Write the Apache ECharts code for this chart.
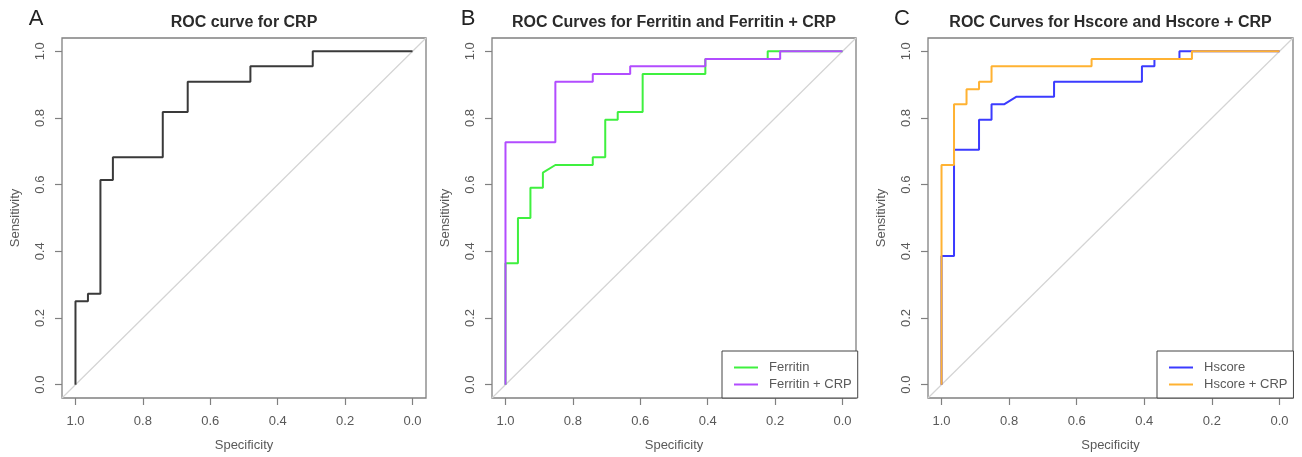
<!DOCTYPE html>
<html>
<head>
<meta charset="utf-8">
<script src="https://cdn.jsdelivr.net/npm/echarts@6/dist/echarts.min.js"></script>
<style>
html,body{margin:0;padding:0;background:#fff;}
#chart{width:1302px;height:457px;}
</style>
</head>
<body>
<div id="chart"></div>
<script>
// ---- data ----
var tickValues = [0, 0.2, 0.4, 0.6, 0.8, 1.0];
var panelTitles = ['ROC curve for CRP', 'ROC Curves for Ferritin and Ferritin + CRP', 'ROC Curves for Hscore and Hscore + CRP'];
var panelLetters = ['A', 'B', 'C'];
var diagSpec = [1.04, -0.04];
var diagSens = [-0.04, 1.04];

// A: CRP
var crpSpec = [1, 1, 0.963, 0.963, 0.926, 0.926, 0.889, 0.889, 0.741, 0.741, 0.667, 0.667, 0.481, 0.481, 0.296, 0.296, 0];
var crpSens = [0, 0.25, 0.25, 0.273, 0.273, 0.614, 0.614, 0.682, 0.682, 0.818, 0.818, 0.909, 0.909, 0.955, 0.955, 1, 1];

// B: Ferritin
var ferSpec = [1, 1, 0.963, 0.963, 0.926, 0.926, 0.889, 0.889, 0.852, 0.741, 0.741, 0.704, 0.704, 0.667, 0.667, 0.593, 0.593, 0.407, 0.407, 0.222, 0.222, 0];
var ferSens = [0, 0.364, 0.364, 0.5, 0.5, 0.591, 0.591, 0.636, 0.659, 0.659, 0.682, 0.682, 0.795, 0.795, 0.818, 0.818, 0.932, 0.932, 0.977, 0.977, 1, 1];
// B: Ferritin + CRP
var fcSpec = [1, 1, 0.852, 0.852, 0.741, 0.741, 0.630, 0.630, 0.407, 0.407, 0.185, 0.185, 0];
var fcSens = [0, 0.727, 0.727, 0.909, 0.909, 0.932, 0.932, 0.955, 0.955, 0.977, 0.977, 1, 1];

// C: Hscore
var hsSpec = [1, 1, 0.963, 0.963, 0.889, 0.889, 0.852, 0.852, 0.815, 0.778, 0.667, 0.667, 0.407, 0.407, 0.370, 0.370, 0.296, 0.296, 0];
var hsSens = [0, 0.386, 0.386, 0.705, 0.705, 0.795, 0.795, 0.841, 0.841, 0.864, 0.864, 0.909, 0.909, 0.955, 0.955, 0.977, 0.977, 1, 1];
// C: Hscore + CRP
var hcSpec = [1, 1, 0.963, 0.963, 0.926, 0.926, 0.889, 0.889, 0.852, 0.852, 0.556, 0.556, 0.259, 0.259, 0];
var hcSens = [0, 0.659, 0.659, 0.841, 0.841, 0.886, 0.886, 0.909, 0.909, 0.955, 0.955, 0.977, 0.977, 1, 1];

// ---- chart ----
function pairs(xs, ys) { return xs.map(function (x, i) { return [x, ys[i]]; }); }

var FONT = '"Liberation Sans", Arial, sans-serif';
var boxColor = '#808080';
var labelColor = '#595959';

var grids = [
  { left: 62, top: 38, width: 364, height: 360 },
  { left: 492, top: 38, width: 364, height: 360 },
  { left: 928, top: 38, width: 365, height: 360 }
].map(function (g) {
  g.show = true; g.borderColor = boxColor; g.borderWidth = 1.3; g.backgroundColor = 'transparent';
  return g;
});

function makeAxis(isX, idx) {
  return {
    type: 'value', gridIndex: idx, min: -0.04, max: 1.04,
    inverse: isX,
    position: isX ? 'bottom' : 'left',
    name: isX ? 'Specificity' : 'Sensitivity',
    nameLocation: 'middle', nameGap: isX ? 41 : 40, nameRotate: isX ? 0 : 90,
    nameTextStyle: { fontFamily: FONT, fontSize: 13, color: labelColor },
    axisLine: { show: false, onZero: false },
    splitLine: { show: false },
    axisTick: { show: true, inside: false, length: 7, customValues: tickValues, lineStyle: { color: boxColor, width: 1.2 } },
    axisLabel: {
      show: true, customValues: tickValues, margin: isX ? 17 : 15, rotate: isX ? 0 : 90,
      fontFamily: FONT, fontSize: 13, color: labelColor,
      formatter: function (v) { return Number(v).toFixed(1); }
    }
  };
}

var xAxes = [0, 1, 2].map(function (i) { return makeAxis(true, i); });
var yAxes = [0, 1, 2].map(function (i) { return makeAxis(false, i); });

var titleCenters = [244, 674, 1110.5];
var letterCenters = [36, 468, 902];
var titles = [];
panelTitles.forEach(function (t, i) {
  titles.push({ text: t, left: titleCenters[i], top: 22.7, textAlign: 'center', textVerticalAlign: 'middle', padding: 0,
    textStyle: { fontFamily: FONT, fontSize: 16, fontWeight: 'bold', color: '#2b2b2b' } });
});
panelLetters.forEach(function (t, i) {
  titles.push({ text: t, left: letterCenters[i], top: 18.5, textAlign: 'center', textVerticalAlign: 'middle', padding: 0,
    textStyle: { fontFamily: FONT, fontSize: 22, fontWeight: 'normal', color: '#222' } });
});

function lineSeries(name, idx, xs, ys, color, width, z) {
  return {
    name: name, type: 'line', xAxisIndex: idx, yAxisIndex: idx,
    data: pairs(xs, ys), symbol: 'none', showSymbol: false,
    lineStyle: { color: color, width: width }, itemStyle: { color: color },
    z: z, animation: false, silent: true
  };
}

var series = [];
[0, 1, 2].forEach(function (i) {
  series.push(lineSeries('diag' + i, i, diagSpec, diagSens, '#d4d4d4', 1.2, 1));
});
series.push(lineSeries('CRP', 0, crpSpec, crpSens, '#3a3a3a', 2, 3));
series.push(lineSeries('Ferritin', 1, ferSpec, ferSens, '#3ff03f', 2, 3));
series.push(lineSeries('Ferritin + CRP', 1, fcSpec, fcSens, '#b24cff', 2, 4));
series.push(lineSeries('Hscore', 2, hsSpec, hsSens, '#3b3bff', 2, 3));
series.push(lineSeries('Hscore + CRP', 2, hcSpec, hcSens, '#ffb232', 2, 4));

function makeLegend(names, left) {
  return {
    data: names, orient: 'vertical', left: left, top: 351,
    icon: 'rect', itemWidth: 24, itemHeight: 2, itemGap: 2,
    borderColor: '#444', borderWidth: 1, padding: [9, 6, 6, 12],
    backgroundColor: '#fff', selectedMode: false,
    textStyle: { fontFamily: FONT, fontSize: 13, color: labelColor, lineHeight: 15, padding: [0, 0, 0, 6] }
  };
}

var option = {
  animation: false,
  backgroundColor: '#ffffff',
  title: titles,
  grid: grids,
  xAxis: xAxes,
  yAxis: yAxes,
  legend: [
    makeLegend(['Ferritin', 'Ferritin + CRP'], 722),
    makeLegend(['Hscore', 'Hscore + CRP'], 1157)
  ],
  series: series
};

var chart = echarts.init(document.getElementById('chart'), null, { renderer: 'canvas' });
chart.setOption(option);
</script>
</body>
</html>
